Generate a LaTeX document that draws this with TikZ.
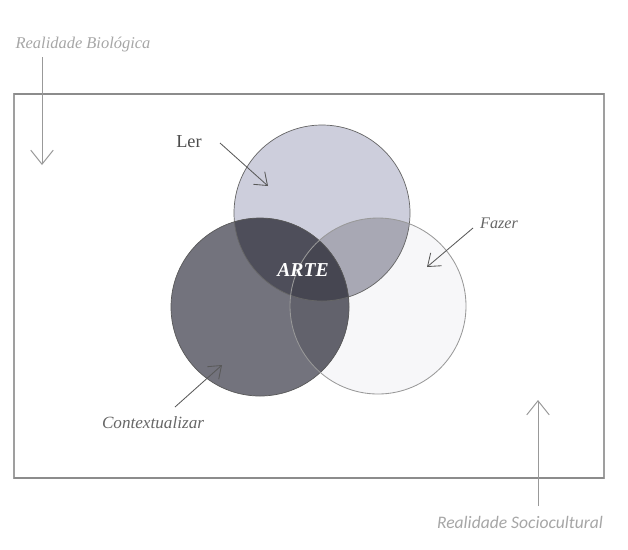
\documentclass[tikz,border=0pt]{standalone}
\usepackage{fontspec}
\setmainfont{Liberation Serif}
\newfontfamily\calibrifont{Carlito}
\usetikzlibrary{arrows.meta}

\definecolor{lerfill}{RGB}{205,206,220}
\definecolor{ctxfill}{RGB}{115,115,125}
\definecolor{lerctx}{RGB}{78,78,90}
\definecolor{lerfaz}{RGB}{168,168,180}
\definecolor{ctxfaz}{RGB}{98,98,108}
\definecolor{fazfill}{RGB}{247,247,249}

\tikzset{
	seta/.style = {-{Straight Barb[length=8pt,width=12pt]}, gray!70!black, line width=0.6pt},
	setalonga/.style = {-{Straight Barb[length=10pt,width=16pt]}, gray!80, line width=0.7pt},
	rotulo/.style = {inner sep=1pt},
}

\begin{document}
\begin{tikzpicture}[x=0.025cm, y=-0.025cm]
	\useasboundingbox (0,0) rectangle (628,549);
	\draw [gray!75, line width=1.2pt] (14,94) rectangle (604,478);
	\draw [gray!90, line width=1.8pt] (14,94) -- (604,94);
	\draw [gray!90, line width=1.8pt] (14,478) -- (604,478);

	\coordinate (cler) at (322,213);
	\coordinate (cctx) at (260,307);
	\coordinate (cfaz) at (378,306);
	\fill [fazfill] (cfaz) circle (88);
	\fill [lerfill] (cler) circle (88);
	\fill [ctxfill] (cctx) circle (89);
	\begin{scope}
		\clip (cler) circle (88);
		\fill [lerfaz] (cfaz) circle (88);
		\fill [lerctx] (cctx) circle (89);
	\end{scope}
	\begin{scope}
		\clip (cfaz) circle (88);
		\fill [ctxfaz] (cctx) circle (89);
		\clip (cler) circle (88);
		\fill [lerctx!90!black] (cctx) circle (89);
	\end{scope}
	\draw [gray!80!black, line width=0.5pt] (cler) circle (88);
	\draw [gray!70!black, line width=0.5pt] (cctx) circle (89);
	\draw [gray!80, line width=0.6pt] (cfaz) circle (88);

	\node [rotulo, white, font=\fontsize{14}{16}\selectfont\bfseries\itshape] (arte) at (303,270) {ARTE};

	\node [rotulo, gray!60!black, font=\fontsize{13}{15}\selectfont] (ler) at (189,142) {Ler};
	\node [rotulo, gray!80!black, font=\fontsize{11.5}{14}\selectfont\itshape] (fazer) at (499,223) {Fazer};
	\node [rotulo, gray!80!black, font=\fontsize{12.2}{14}\selectfont\itshape] (ctx) at (153,423) {Contextualizar};
	\coordinate (lerA) at (220,143);  \coordinate (lerB) at (268,186);
	\coordinate (fazA) at (473,228);  \coordinate (fazB) at (427,267);
	\coordinate (ctxA) at (175,407);  \coordinate (ctxB) at (222,365);
	\draw [seta] (lerA) -- (lerB);
	\draw [seta] (fazA) -- (fazB);
	\draw [seta] (ctxA) -- (ctxB);

	\node [rotulo, gray!70, font=\fontsize{11.7}{14}\selectfont\itshape] (bio) at (83,45) {Realidade Biológica};
	\node [rotulo, gray!70, font=\fontsize{12.5}{14}\calibrifont\itshape] (socio) at (520,522) {Realidade Sociocultural};
	\coordinate (bioA) at (42,57);   \coordinate (bioB) at (42,165);
	\coordinate (socA) at (538,506); \coordinate (socB) at (538,400);
	\draw [setalonga] (bioA) -- (bioB);
	\draw [setalonga] (socA) -- (socB);
\end{tikzpicture}
\end{document}
